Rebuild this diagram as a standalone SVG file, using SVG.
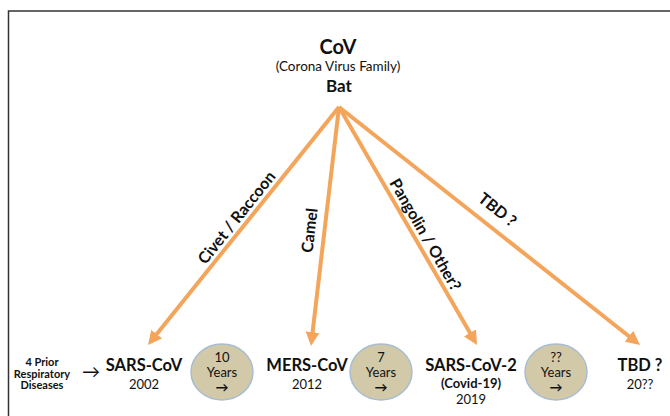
<svg xmlns="http://www.w3.org/2000/svg" width="670" height="416" viewBox="0 0 670 416">
<style>
text{font-family:Lato,"Liberation Sans",sans-serif;fill:#111}
.b{font-weight:bold}
.ln{stroke:#F4A55C;stroke-width:4;fill:none;marker-end:url(#ah)}
.el{fill:#D1C9A8;stroke:#A8BDD2;stroke-width:1.5}
.lab{font-size:16px;font-weight:bold}
.nm{font-size:16.5px;font-weight:bold}
.yr{font-size:13px}
</style>
<defs>
<marker id="ah" viewBox="0 0 14 14" refX="6" refY="7" markerWidth="14" markerHeight="14" markerUnits="userSpaceOnUse" orient="auto">
<path d="M0,0 L14,7 L0,14 z" fill="#F4A55C"/>
</marker>
</defs>
<rect x="0" y="0" width="670" height="416" fill="#fff"/>
<path d="M8.5,420 V11 H672" fill="none" stroke="#333" stroke-width="1.5"/>
<g id="header">
<text x="338" y="54" text-anchor="middle" class="b" font-size="20">CoV</text>
<text x="338" y="71" text-anchor="middle" font-size="13.5">(Corona Virus Family)</text>
</g>
<g id="bat"><text x="339" y="92" text-anchor="middle" class="b" font-size="17">Bat</text></g>
<g id="connectors">
<line class="ln" x1="339" y1="107" x2="153" y2="338.8"/>
<line class="ln" x1="339" y1="107" x2="311.9" y2="338.1"/>
<line class="ln" x1="339" y1="107" x2="473" y2="338.1"/>
<line class="ln" x1="339" y1="107" x2="633.7" y2="340"/>
<text class="lab" text-anchor="middle" transform="translate(241,221) rotate(-51.3)">Civet / Raccoon</text>
<text class="lab" text-anchor="middle" transform="translate(315,231) rotate(-83.3)">Camel</text>
<text class="lab" text-anchor="middle" transform="translate(420.7,237.5) rotate(60)">Pangolin / Other?</text>
<text class="lab" text-anchor="middle" transform="translate(494,214) rotate(38.4)">TBD ?</text>
<text x="91" y="378" text-anchor="middle" font-size="18" font-family="DejaVu Sans">→</text>
</g>
<g id="prior">
<text x="42" y="366" text-anchor="middle" class="b" font-size="11">4 Prior</text>
<text x="42" y="377.5" text-anchor="middle" class="b" font-size="11">Respiratory</text>
<text x="42" y="389" text-anchor="middle" class="b" font-size="11">Diseases</text>
</g>
<g id="sars">
<text x="144" y="371" text-anchor="middle" class="nm">SARS-CoV</text>
<text x="144" y="389" text-anchor="middle" class="yr">2002</text>
</g>
<g id="gap1">
<ellipse class="el" cx="222" cy="372" rx="31" ry="28"/>
<text x="222" y="362" text-anchor="middle" font-size="13">10</text>
<text x="222" y="377" text-anchor="middle" font-size="13">Years</text>
<text x="222" y="392" text-anchor="middle" class="b" font-size="13" font-family="DejaVu Sans">→</text>
</g>
<g id="mers">
<text x="307" y="371" text-anchor="middle" class="nm">MERS-CoV</text>
<text x="307" y="389" text-anchor="middle" class="yr">2012</text>
</g>
<g id="gap2">
<ellipse class="el" cx="381" cy="372" rx="31" ry="28"/>
<text x="381" y="362" text-anchor="middle" font-size="13">7</text>
<text x="381" y="377" text-anchor="middle" font-size="13">Years</text>
<text x="381" y="392" text-anchor="middle" class="b" font-size="13" font-family="DejaVu Sans">→</text>
</g>
<g id="sars2">
<text x="471" y="371" text-anchor="middle" class="nm">SARS-CoV-2</text>
<text x="471" y="388" text-anchor="middle" class="b" font-size="13">(Covid-19)</text>
<text x="471" y="404" text-anchor="middle" class="yr">2019</text>
</g>
<g id="gap3">
<ellipse class="el" cx="556" cy="372" rx="31" ry="28"/>
<text x="556" y="362" text-anchor="middle" font-size="13">??</text>
<text x="556" y="377" text-anchor="middle" font-size="13">Years</text>
<text x="556" y="392" text-anchor="middle" class="b" font-size="13" font-family="DejaVu Sans">→</text>
</g>
<g id="tbd">
<text x="640" y="371" text-anchor="middle" class="nm">TBD ?</text>
<text x="640" y="389" text-anchor="middle" class="yr">20??</text>
</g>
</svg>
